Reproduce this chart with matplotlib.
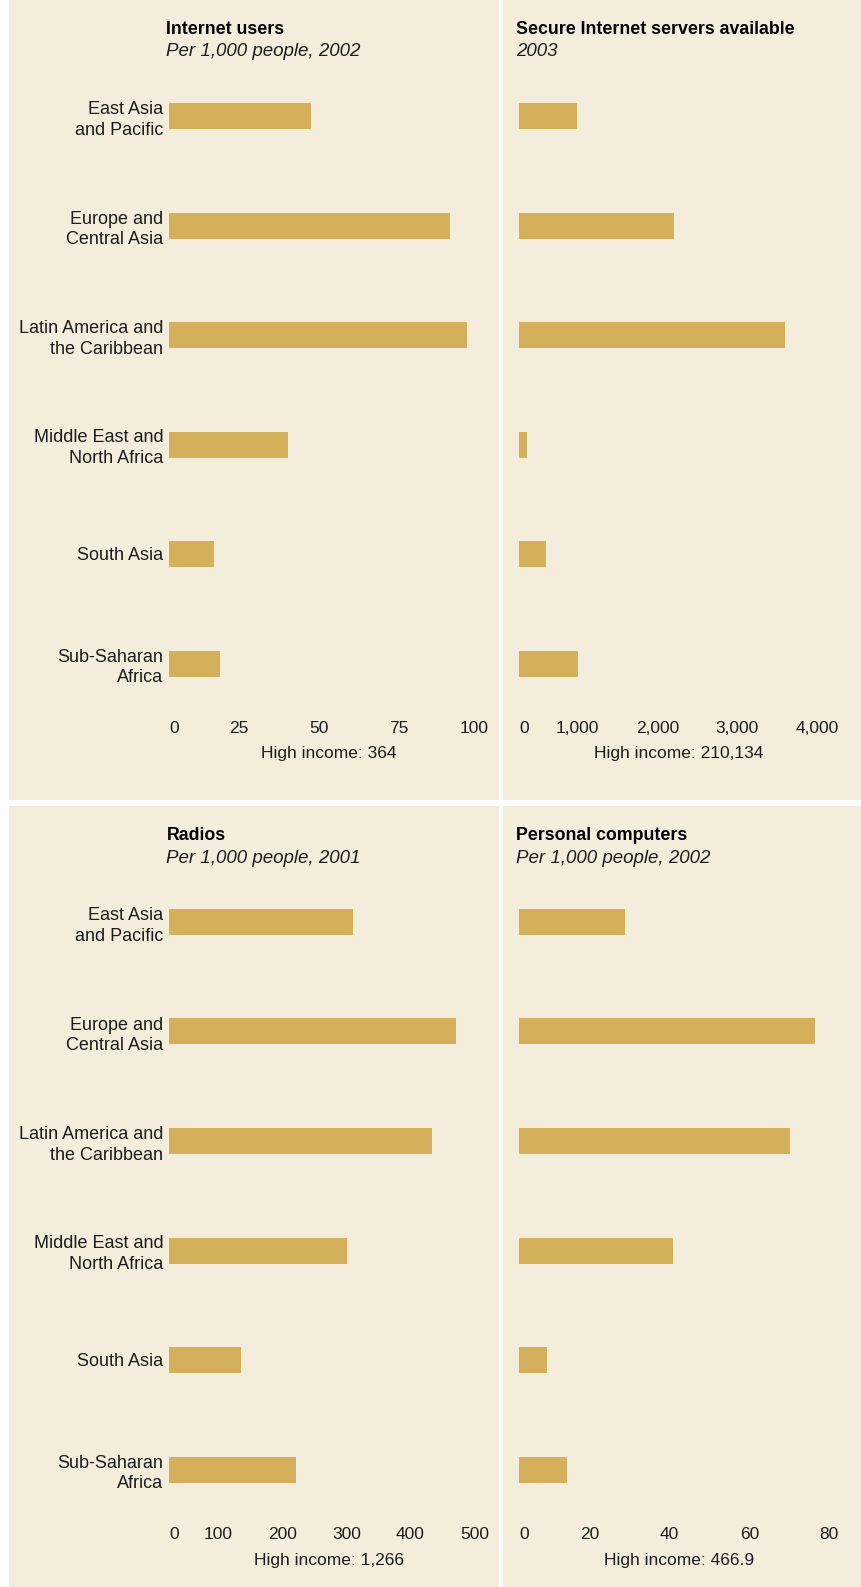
import matplotlib
matplotlib.use('Agg')
import matplotlib.pyplot as plt
from matplotlib.patches import Rectangle
from matplotlib import font_manager

# ---------------- data ----------------
regions = ["East Asia\nand Pacific", "Europe and\nCentral Asia",
           "Latin America and\nthe Caribbean", "Middle East and\nNorth Africa",
           "South Asia", "Sub-Saharan\nAfrica"]

internet_users = [44.3, 87.9, 93.0, 37.2, 14.1, 16.0]
secure_servers = [730, 1938, 3330, 105, 337, 734]
radios = [287, 449, 411, 278, 112, 198]
computers = [26.5, 73.9, 67.8, 38.5, 6.9, 11.9]

internet_ticks = [0, 25, 50, 75, 100]
server_ticks = [0, 1000, 2000, 3000, 4000]
radio_ticks = [0, 100, 200, 300, 400, 500]
computer_ticks = [0, 20, 40, 60, 80]

internet_ticklabels = ["0", "25", "50", "75", "100"]
server_ticklabels = ["0", "1,000", "2,000", "3,000", "4,000"]
radio_ticklabels = ["0", "100", "200", "300", "400", "500"]
computer_ticklabels = ["0", "20", "40", "60", "80"]

titles = ["Internet users", "Secure Internet servers available",
          "Radios", "Personal computers"]
subtitles = ["Per 1,000 people, 2002", "2003",
             "Per 1,000 people, 2001", "Per 1,000 people, 2002"]
high_income = ["High income: 364", "High income: 210,134",
               "High income: 1,266", "High income: 466.9"]

# ---------------- style ----------------
W, H = 861, 1587
BG = '#F5EDDC'
BAR = '#D5B05B'
TXT = '#1c1c1c'

names = {f.name for f in font_manager.fontManager.ttflist}
FONT = 'Liberation Sans' if 'Liberation Sans' in names else 'DejaVu Sans'
plt.rcParams['font.family'] = [FONT, 'DejaVu Sans']

fig = plt.figure(figsize=(W / 100, H / 100), dpi=100)
fig.patch.set_facecolor('white')


def fx(px):
    return px / W


def fy(py):
    return 1 - py / H


# panel backgrounds (pixel boxes, top-down)
panels_px = [(9, 0, 499, 800), (503, 0, 861, 800),
             (9, 806, 499, 1587), (503, 806, 861, 1587)]
for (x0, y0, x1, y1) in panels_px:
    fig.add_artist(Rectangle((fx(x0), fy(y1)), fx(x1 - x0), (y1 - y0) / H,
                             transform=fig.transFigure, facecolor=BG,
                             edgecolor='none', zorder=0))

datasets = [(internet_users, internet_ticks, internet_ticklabels),
            (secure_servers, server_ticks, server_ticklabels),
            (radios, radio_ticks, radio_ticklabels),
            (computers, computer_ticks, computer_ticklabels)]

AX_W = 320
AX_H = 657
ROW = AX_H / 6
BAR_H = 26 / ROW

for k, (vals, ticks, tlabels) in enumerate(datasets):
    col, row = k % 2, k // 2
    off = row * 806
    ax_left = 169 if col == 0 else 519
    ax_top = 61.25 + off
    ax = fig.add_axes([fx(ax_left), fy(ax_top + AX_H), fx(AX_W), AX_H / H])
    ax.set_facecolor('none')
    ax.barh(range(len(vals)), vals, height=BAR_H, color=BAR, edgecolor='none')
    ax.set_xlim(0, ticks[-1])
    ax.set_ylim(len(vals) - 0.5, -0.5)
    for s in ax.spines.values():
        s.set_visible(False)
    ax.set_xticks(ticks, tlabels)
    ax.tick_params(axis='x', length=0, pad=7.2, labelsize=12.5, labelcolor=TXT)
    for i, lbl in enumerate(ax.get_xticklabels()):
        lbl.set_ha('left' if i == 0 else 'right')
        lbl.set_va('center')
    if col == 0:
        ax.set_yticks(range(len(regions)), regions)
        ax.tick_params(axis='y', length=0, pad=4.2, labelsize=13, labelcolor=TXT)
        for lbl in ax.get_yticklabels():
            lbl.set_multialignment('right')
            lbl.set_linespacing(1.3)
    else:
        ax.set_yticks([])

    cx = ax_left + AX_W / 2
    fig.text(fx(cx), fy(754 + off), high_income[k], ha='center', va='center',
             fontsize=12.5, color=TXT)
    tx = 166.5 if col == 0 else 516.5
    fig.text(fx(tx), fy(29.5 + off), titles[k], ha='left', va='center',
             fontsize=12.8, fontweight='bold', color='black')
    fig.text(fx(tx), fy(52 + off), subtitles[k], ha='left', va='center',
             fontsize=13.5, fontstyle='italic', color=TXT)

fig.savefig('out.png', dpi=100, facecolor=fig.get_facecolor())
